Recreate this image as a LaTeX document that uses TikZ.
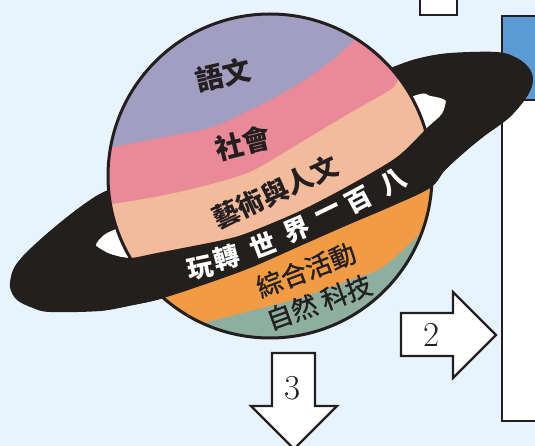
\documentclass[tikz,border=0pt]{standalone}
\usepackage{fontspec}
\newfontfamily\cjk{Noto Sans CJK TC}
\newfontfamily\cjkmed[FakeBold=1.2]{Noto Sans CJK TC}
\definecolor{bgc}{HTML}{E8F4FD}
\definecolor{ink}{HTML}{231F20}
\definecolor{ringc}{HTML}{231F1C}
\definecolor{lilac}{HTML}{A29EC1}
\definecolor{rose}{HTML}{EA8A98}
\definecolor{peach}{HTML}{F2BB9C}
\definecolor{amber}{HTML}{F29B45}
\definecolor{sage}{HTML}{8EAF9F}
\definecolor{header}{HTML}{5B9AD3}
\begin{document}
\begin{tikzpicture}[x=1pt,y=-1pt,
  subj/.style={text=ink, inner sep=0pt, font=\cjk\bfseries\fontsize{28}{28}\selectfont},
  arts/.style={text=ink, inner sep=0pt, font=\cjk\bfseries\fontsize{27}{27}\selectfont},
  lab/.style={text=ink, inner sep=0pt, font=\cjkmed\fontsize{26}{26}\selectfont},
  bandtxt/.style={text=white, inner sep=0pt, font=\cjk\bfseries\fontsize{26}{26}\selectfont},
  numtxt/.style={text=ink, inner sep=0pt, font=\fontsize{35}{35}\selectfont},
  blockarrow/.style={draw=ink, line width=2.2pt, fill=white, line join=miter}]
\useasboundingbox (0,0) rectangle (535,446);
\fill[bgc] (0,0) rectangle (535,446);
\begin{scope}
\clip (0,0) rectangle (535,446);

% frames at the top and on the right
\draw[ink, line width=2pt, fill=white] (420,-5) rectangle (457,15);
\fill[white] (502,100) rectangle (545,421);
\fill[header] (502,16) rectangle (545,100);
\draw[ink, line width=2.5pt] (545,16) -- (502,16) -- (502,421) -- (545,421);
\draw[ink, line width=2.5pt] (502,100) -- (545,100);

% the ring, back part
\fill[ringc] plot[smooth cycle, tension=0.55] coordinates {
  (10,287) (13,270) (23,256) (43,237) (67,217) (90,200) (110,189)
  (200,148) (300,104) (393,67) (420,58) (450,53) (497,52) (517,58)
  (529,68) (533,80) (528,95) (510,117) (483,137) (467,150) (445,170)
  (430,188) (390,207) (350,224) (300,246) (250,268) (200,286) (160,299)
  (133,305) (100,311) (50,312) (33,308) (17,300)};
% the opening inside the ring
\fill[white] plot[smooth cycle, tension=0.5] coordinates {
  (96,246) (104,235) (118,228) (200,190) (300,146) (411,97) (430,96)
  (446,101) (442,114) (426,129) (397,157) (350,185) (300,211) (250,232)
  (223,240) (157,253) (130,258) (110,254)};

% the planet and its coloured bands
\begin{scope}
\clip (270,176) circle[radius=162];
\fill[lilac] (100,0) rectangle (440,350);
\fill[rose] plot[smooth] coordinates {(100,150) (113,147) (160,138) (213,127)
  (250,110) (270,100) (300,83) (330,62) (353,42) (370,28)}
  -- (460,0) -- (460,350) -- (100,350) -- cycle;
\fill[peach] plot[smooth] coordinates {(100,206) (113,204) (160,196) (200,187)
  (250,172) (300,143) (350,113) (390,90) (400,78) (415,60)}
  -- (460,40) -- (460,350) -- (100,350) -- cycle;
\fill[amber] plot[smooth] coordinates {(100,258) (130,258) (157,253) (223,240)
  (250,232) (300,211) (350,185) (397,157) (426,129) (440,110)}
  -- (460,110) -- (460,350) -- (100,350) -- cycle;
\fill[sage] plot[smooth] coordinates {(150,335) (207,322) (250,311) (300,298)
  (350,280) (383,267) (423,230) (433,205)}
  -- (460,200) -- (460,350) -- (150,350) -- cycle;
\end{scope}
\draw[ink, line width=3pt] (270,176) circle[radius=162];

% the ring, front part across the planet
\fill[ringc] plot[smooth, tension=0.5] coordinates {
  (96,246) (110,254) (130,258) (157,253) (223,240) (250,232) (300,211)
  (350,185) (397,157) (426,129) (442,114) (446,101)}
  -- plot[smooth, tension=0.55] coordinates {
  (483,137) (467,150) (445,170) (430,188) (390,207) (350,224) (300,246)
  (250,268) (200,286) (160,299) (133,305) (100,311)} -- cycle;

% subject names
\node[subj, rotate=13] (yuwen) at (223,75) {語文};
\node[subj, rotate=14] (shehui) at (243,143) {社會};
\node[arts, rotate=25] (yishu) at (275,192) {藝術與人文};
\node[lab, rotate=21] (zonghe) at (306,270) {綜合活動};
\node[lab, rotate=20] (ziran) at (319,302) {自然\hspace{6pt}科技};

% title on the ring
\node[bandtxt, rotate=12] (t1) at (200,268) {玩};
\node[bandtxt, rotate=15] (t2) at (227,258) {轉};
\node[bandtxt, rotate=21] (t3) at (263,245) {世};
\node[bandtxt, rotate=23] (t4) at (297,230) {界};
\node[bandtxt, rotate=26] (t5) at (329,213) {一};
\node[bandtxt, rotate=28] (t6) at (359,200) {百};
\node[bandtxt, rotate=30] (t7) at (393,182) {八};

% block arrows
\draw[blockarrow] (401,313) -- (453,313) -- (453,292) -- (496,335) -- (453,378)
  -- (453,356) -- (401,356) -- cycle;
\node[numtxt] (n2) at (432,335) {2};
\draw[blockarrow] (272,353) -- (315,353) -- (315,406) -- (337,406) -- (294,449)
  -- (251,406) -- (272,406) -- cycle;
\node[numtxt] (n3) at (293,388) {3};
\end{scope}
\end{tikzpicture}
\end{document}
